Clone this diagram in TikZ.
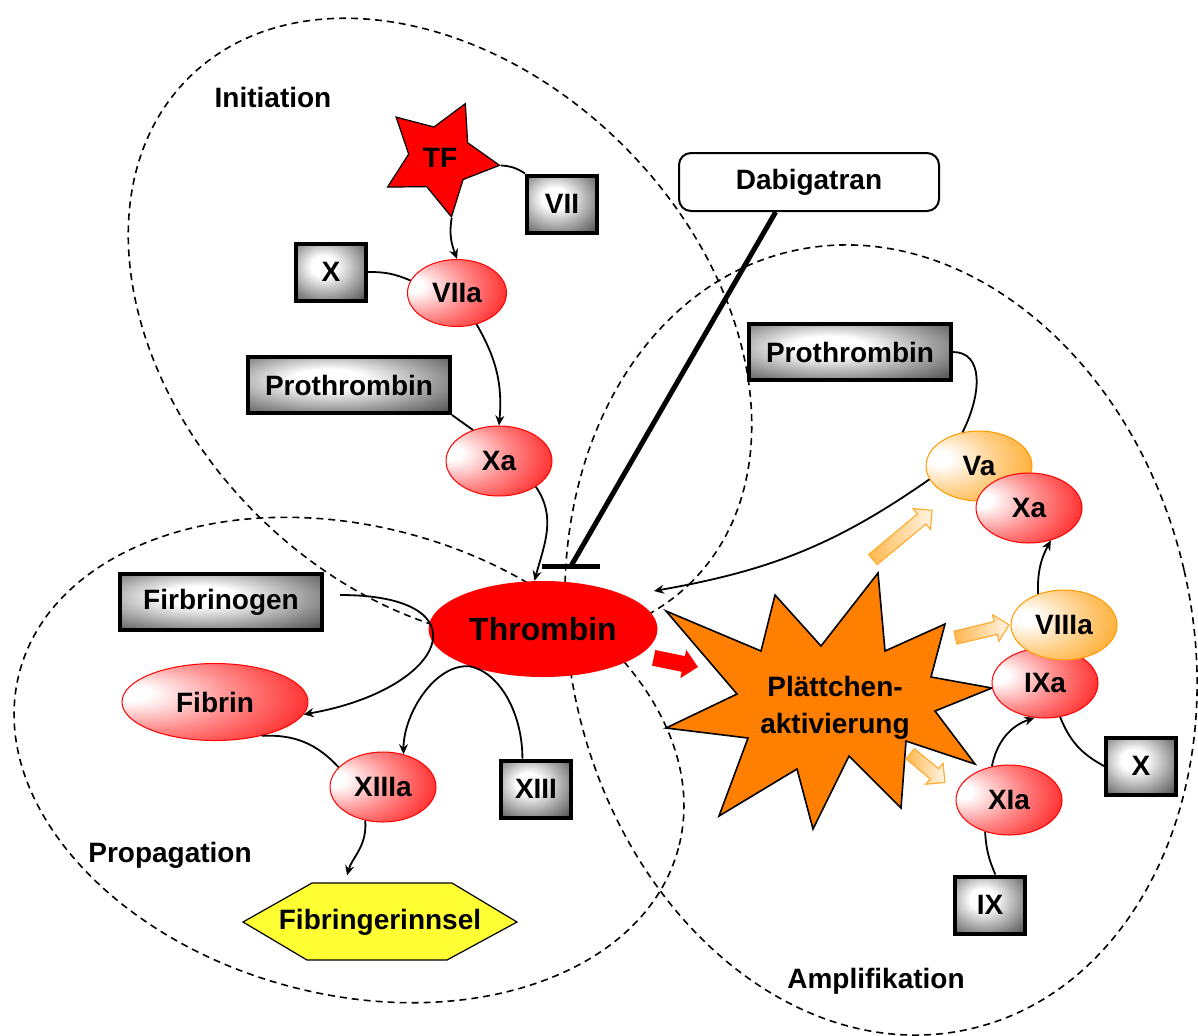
\documentclass[tikz,border=0pt]{standalone}
\usepackage{fontspec}
\setmainfont{Liberation Sans}
\usetikzlibrary{arrows.meta,shapes.geometric,shapes.arrows}

\definecolor{tfred}{RGB}{255,0,0}
\definecolor{burstor}{RGB}{255,128,0}
\definecolor{factor}{RGB}{255,153,0}
\definecolor{clotyel}{RGB}{255,255,51}

\pgfdeclareradialshading{glowbox}{\pgfpoint{-6bp}{6bp}}{color(0bp)=(white); color(9bp)=(white); color(24bp)=(black!35); color(37bp)=(black!65); color(49bp)=(black!88); color(75bp)=(black)}
\pgfdeclareradialshading{glowred}{\pgfpoint{-24bp}{6bp}}{color(0bp)=(white); color(5bp)=(white); color(22bp)=(tfred!45!white); color(40bp)=(tfred!85!white); color(55bp)=(tfred); color(80bp)=(tfred)}
\pgfdeclareradialshading{glowor}{\pgfpoint{-20bp}{6bp}}{color(0bp)=(white); color(5bp)=(white); color(22bp)=(factor!45!white); color(40bp)=(factor!85!white); color(55bp)=(factor); color(80bp)=(factor)}

\begin{document}
\begin{tikzpicture}[x=0.5pt, y=-0.5pt,
  every node/.style={font=\bfseries\fontsize{14}{16}\selectfont, inner sep=0pt},
  zone/.style={draw, dash pattern=on 3.5pt off 2.5pt, line width=0.8pt},
  gbox/.style={rectangle, draw, line width=2pt, shade, shading=glowbox, minimum width=35pt, minimum height=28.5pt},
  wbox/.style={gbox, minimum width=101pt, minimum height=28pt},
  rfac/.style={ellipse, draw=tfred, line width=0.5pt, shade, shading=glowred, minimum width=53pt, minimum height=35pt},
  ofac/.style={rfac, draw=factor, shading=glowor},
  hollow/.style={single arrow, draw=factor!80, line width=0.6pt, left color=factor!70, right color=factor!10, inner sep=3pt, single arrow head extend=3.5pt},
  arrow/.style={-{Stealth[length=5pt,width=4.5pt]}, line width=0.9pt},
  link/.style={line width=0.9pt}]
\useasboundingbox (0,0) rectangle (1198,1035);
\draw[zone, rotate around={-45:(440,330)}] (440,330) ellipse [x radius=356, y radius=260];
\draw[zone, rotate around={-15:(349,760)}] (349,760) ellipse [x radius=341, y radius=234];
\draw[zone, rotate around={13:(881,640)}] (881,640) ellipse [x radius=311, y radius=399];
\node (lini) at (273,97) {Initiation};
\node (lpro) at (170,855) {Propagation};
\node (lamp) at (876,981) {Amplifikation};
\draw[fill=burstor, line width=0.8pt] (666,611) -- (761,651) -- (775,595) -- (821,646) -- (878,573) -- (885,651) -- (945,624) -- (931,677) -- (992,688) -- (935,711) -- (975,764) -- (906,741) -- (901,808) -- (849,756) -- (813,829) -- (797,769) -- (719,816) -- (748,738) -- (666,728) -- (737,694) -- cycle;
\node[align=center, font=\bfseries\fontsize{14}{18.5}\selectfont] (plt) at (835,708) {Plättchen-\\aktivierung};
\draw[fill=clotyel, line width=0.6pt] (243,922) -- (312,883) -- (452,883) -- (517,922) -- (447,960) -- (307,960) -- cycle;
\node[minimum width=137pt, minimum height=38.5pt] (clot) at (380,922) {Fibringerinnsel};
\node[star, star points=5, star point ratio=1.9, shape border rotate=-25, fill=tfred, draw, line width=0.6pt, minimum size=60pt] (tf) at (440,158) {TF};
\node[gbox] (vii) at (562,204) {VII};
\node[gbox] (xi) at (331,272) {X};
\node[rfac, minimum width=49.5pt, minimum height=33.5pt] (viia) at (457,293) {VIIa};
\node[wbox] (proi) at (349,385) {Prothrombin};
\node[rfac] (xai) at (499,461) {Xa};
\node[ellipse, fill=tfred, minimum width=114.5pt, minimum height=48pt, font=\bfseries\fontsize{16}{18}\selectfont] (thr) at (543,629) {Thrombin};
\node[draw, line width=1pt, rounded corners=6pt, fill=white, minimum width=130pt, minimum height=29pt] (dabi) at (809,182) {Dabigatran};
\node[wbox] (firb) at (221,602) {Firbrinogen};
\node[rfac, minimum width=93pt, minimum height=38.5pt] (fib) at (215,702) {Fibrin};
\node[rfac] (xiiia) at (383,787) {XIIIa};
\node[gbox] (xiii) at (536,789) {XIII};
\node[wbox] (proa) at (850,352) {Prothrombin};
\node[ofac] (va) at (979,466) {Va};
\node[rfac] (xaa) at (1029,508) {Xa};
\node[rfac] (ixa) at (1045,683) {IXa};
\node[ofac] (viiia) at (1064,625) {VIIIa};
\node[gbox] (xb) at (1141,766) {X};
\node[rfac] (xia) at (1009,800) {XIa};
\node[gbox] (ix) at (990,905) {IX};
\node[hollow, rotate=39.7, minimum height=38.5pt] (pva) at (900,537) {};
\node[hollow, rotate=13.5, minimum height=27.5pt] (pviii) at (979,632) {};
\node[hollow, rotate=-39.6, minimum height=22.5pt] (pxi) at (925,766) {};
\coordinate (pin) at (698,667);
\coordinate (inh) at (571,566);
\draw[line width=8pt, tfred, -{Triangle[length=7.5pt,width=14pt]}, shorten <=7pt] (thr.-15) -- (pin);
\draw[line width=2.5pt] (dabi.222) -- (inh);
\draw[line width=2.5pt] (inh) ++(-29,0) -- ++(58,0);
\draw[link] (tf.-7) to[bend left=15] (vii.north west);
\draw[arrow] (tf.-79) to[out=-100,in=110] (viia.north);
\draw[link] (xi.east) to[bend left=12] (viia.165);
\draw[arrow] (viia.-58) to[out=-60,in=85] (xai.north);
\draw[link] (proi.south east) -- (xai.130);
\draw[arrow] (xai.-35) to[out=-55,in=75] (thr.100);
\draw[arrow] ([xshift=8pt,yshift=3.5pt]firb.east) to[out=0,in=10,looseness=3] (fib.-8);
\draw[link] (xiii.114) .. controls +(0,-45) and +(30,6) .. (thr.207);
\draw[arrow] (thr.207) .. controls +(-35,-3) and +(0,-40) .. (xiiia.58);
\draw[link] (fib.-36) to[bend left=25] (xiiia.156);
\draw[arrow, shorten >=4pt] (xiiia.-118) to[out=-85,in=75] ([xshift=-17.5pt]clot.north);
\draw[link] (proa.east) .. controls +(30,0) and +(20,-40) .. (va.116);
\draw[arrow] (va.195) to[out=215,in=10] ([xshift=-2pt,yshift=19pt]thr.east);
\draw[arrow] (viiia.130) to[bend left=15] (xaa.-56);
\draw[arrow] (xia.117) to[bend left=30] (ixa.-107);
\draw[link] (ixa.-66) to[bend right=20] (xb.west);
\draw[link] (ix.80) to[bend left=10] (xia.-127);
\end{tikzpicture}
\end{document}
